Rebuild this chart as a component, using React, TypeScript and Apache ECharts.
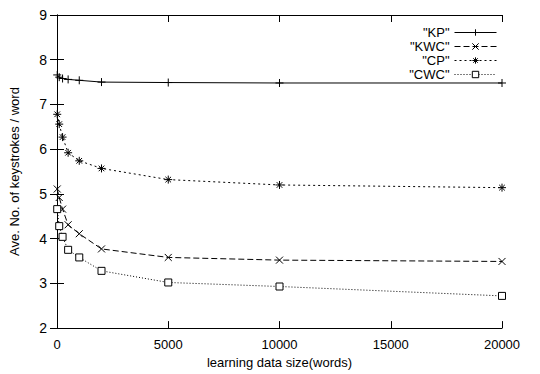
import React, { useEffect, useRef } from "react";
import * as echarts from "echarts";

const sizes = [10, 100, 250, 500, 1000, 2000, 5000, 10000, 20000];
const kp = [7.66, 7.61, 7.58, 7.56, 7.54, 7.5, 7.49, 7.48, 7.48];
const kwc = [5.11, 4.92, 4.66, 4.31, 4.11, 3.77, 3.58, 3.52, 3.49];
const cp = [6.78, 6.56, 6.27, 5.92, 5.74, 5.57, 5.32, 5.2, 5.14];
const cwc = [4.66, 4.28, 4.04, 3.75, 3.58, 3.28, 3.02, 2.93, 2.72];
const seriesNames = ['"KP"', '"KWC"', '"CP"', '"CWC"'];

const PLUS = "path://M0,5L10,5M5,0L5,10";
const CROSS = "path://M0,0L10,10M0,10L10,0";
const STAR = "path://M0,5L10,5M5,0L5,10M1.5,1.5L8.5,8.5M1.5,8.5L8.5,1.5";

const FONT = "Liberation Sans, Arial, sans-serif";

export default function App() {
  const ref = useRef<HTMLDivElement>(null);
  useEffect(() => {
    if (!ref.current) return;
    const chart = echarts.init(ref.current, null, { renderer: "svg" });
    const pair = (ys: number[]) => sizes.map((x, i) => [x, ys[i]]);
    const mk = (name: string, ys: number[], symbol: string, size: number, dash: any, fill: string) => ({
      name,
      type: "line",
      data: pair(ys),
      symbol,
      symbolSize: size,
      showAllSymbol: true,
      color: "#000",
      itemStyle: { color: fill, borderColor: "#000", borderWidth: 1 },
      lineStyle: { color: "#000", width: 1, type: dash },
      z: 3,
    });
    const axisCommon = {
      axisLine: { show: true, lineStyle: { color: "#000", width: 1 } },
      axisTick: { show: true, inside: true, length: 7, lineStyle: { color: "#000" } },
      splitLine: { show: false },
    };
    chart.setOption({
      animation: false,
      backgroundColor: "#fff",
      textStyle: { fontFamily: FONT },
      grid: { left: 57, right: 38, top: 15, bottom: 39 },
      legend: {
        orient: "vertical",
        right: 38,
        top: 21,
        align: "right",
        itemWidth: 42,
        itemHeight: 8,
        itemGap: 1,
        lineStyle: { width: 1 },
        itemStyle: { borderWidth: 1, borderColor: "#000" },
        textStyle: { fontSize: 13, color: "#000", fontFamily: FONT },
        data: seriesNames,
      },
      xAxis: [
        {
          type: "value",
          min: 0,
          max: 20000,
          interval: 5000,
          name: "learning data size(words)",
          nameLocation: "middle",
          nameGap: 24,
          nameTextStyle: { fontSize: 13, color: "#000" },
          axisLabel: { fontSize: 13, color: "#000", margin: 10, formatter: (v: number) => String(v) },
          ...axisCommon,
        },
        {
          type: "value",
          position: "top",
          min: 0,
          max: 20000,
          interval: 5000,
          axisLabel: { show: false },
          ...axisCommon,
        },
      ],
      yAxis: [
        {
          type: "value",
          min: 2,
          max: 9,
          interval: 1,
          name: "Ave. No. of keystrokes / word",
          nameLocation: "middle",
          nameGap: 36,
          nameTextStyle: { fontSize: 13, color: "#000" },
          axisLabel: { fontSize: 14, color: "#000", margin: 10 },
          ...axisCommon,
        },
        {
          type: "value",
          position: "right",
          min: 2,
          max: 9,
          interval: 1,
          axisLabel: { show: false },
          ...axisCommon,
        },
      ],
      series: [
        mk(seriesNames[0], kp, PLUS, 8, "solid", "#000"),
        mk(seriesNames[1], kwc, CROSS, 7, [6, 3], "#000"),
        mk(seriesNames[2], cp, STAR, 8, [2, 3], "#000"),
        mk(seriesNames[3], cwc, "rect", 7, [1, 2], "#fff"),
      ],
    });
    return () => chart.dispose();
  }, []);
  return <div ref={ref} style={{ width: 540, height: 374, position: "absolute", left: 0, top: 0 }} />;
}
